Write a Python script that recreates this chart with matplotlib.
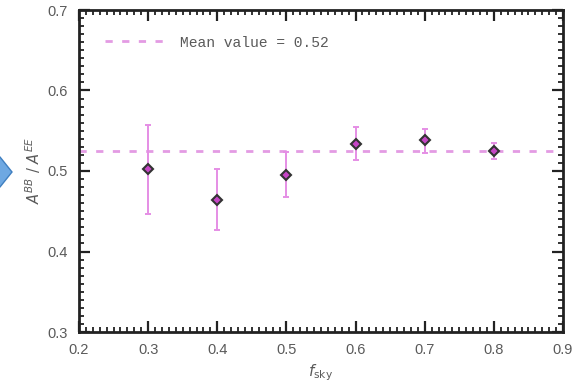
import numpy as np
import matplotlib.pyplot as plt
from matplotlib.patches import Polygon
from matplotlib.ticker import MultipleLocator

# dane
f_sky = [0.3, 0.4, 0.5, 0.6, 0.7, 0.8]
ratio = [0.5025, 0.4638, 0.495, 0.5337, 0.5379, 0.5247]
err_low = [0.0556, 0.0375, 0.027, 0.0201, 0.0153, 0.0103]
err_high = [0.0543, 0.0392, 0.028, 0.021, 0.0144, 0.0103]
mean_value = 0.5247
mean_label = "Mean value = 0.52"

W, H = 578, 385
fig = plt.figure(figsize=(W / 100, H / 100), dpi=100)
ax = fig.add_axes([79 / W, 1 - 332 / H, 484 / W, 322 / H])

gray = "#5a5a5a"
pink = "#e39be3"

# linia średniej
ax.axhline(mean_value, color=pink, lw=2, ls=(0, (2.6, 3.4)), label=mean_label, zorder=2)

# punkty z błędami
ax.errorbar(f_sky, ratio, yerr=[err_low, err_high], fmt="none", ecolor="#e58ee5",
            elinewidth=1.4, capsize=2.5, capthick=1.4, zorder=3)
ax.plot(f_sky, ratio, ls="none", marker="D", ms=5.5, mfc="#c646c6", mec="#333333",
        mew=1.5, zorder=4)

ax.set_xlim(0.2, 0.9)
ax.set_ylim(0.3, 0.7)
ax.xaxis.set_major_locator(MultipleLocator(0.1))
ax.yaxis.set_major_locator(MultipleLocator(0.1))
ax.xaxis.set_minor_locator(MultipleLocator(0.01))
ax.yaxis.set_minor_locator(MultipleLocator(0.01))
ax.tick_params(which="both", direction="in", top=True, right=True, color="#222222",
               labelcolor=gray, labelsize=10.5)
ax.tick_params(which="major", length=8, width=1.6, pad=8)
ax.tick_params(which="minor", length=3.5, width=1.3)
for s in ax.spines.values():
    s.set_linewidth(2)
    s.set_color("#222222")

for lab in ax.get_xticklabels() + ax.get_yticklabels():
    lab.set_family("Liberation Sans")

ax.set_xlabel(r"$f_{\rm sky}$", color=gray, fontsize=11, labelpad=4)
ax.set_ylabel(r"$A^{BB}\ /\ A^{EE}$", color=gray, fontsize=10.5, labelpad=3)

leg = ax.legend(loc="upper left", frameon=False, handlelength=4.0, handletextpad=1.2,
                borderaxespad=1.35, prop={"family": "Liberation Mono", "size": 10.5})
for t in leg.get_texts():
    t.set_color(gray)

# niebieska strzałka przy lewej krawędzi
pts = [(-30, 157), (0, 157), (12, 172), (0, 187), (-30, 187)]
arrow = Polygon([(x / W, 1 - y / H) for x, y in pts], closed=True,
                transform=fig.transFigure, facecolor="#6ea8e2", edgecolor="#3f7fc0", lw=1)
fig.patches.append(arrow)

fig.savefig("out.png", dpi=100)
